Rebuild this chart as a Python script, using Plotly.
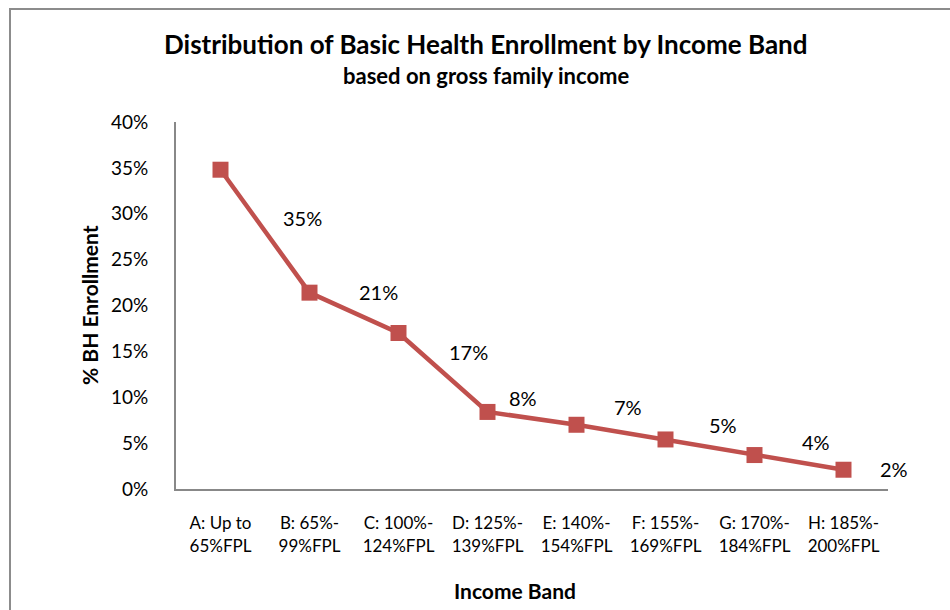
import plotly.graph_objects as go

categories = ["A: Up to<br>65%FPL", "B: 65%-<br>99%FPL", "C: 100%-<br>124%FPL", "D: 125%-<br>139%FPL",
              "E: 140%-<br>154%FPL", "F: 155%-<br>169%FPL", "G: 170%-<br>184%FPL", "H: 185%-<br>200%FPL"]
enrollment = [0.348, 0.214, 0.170, 0.084, 0.070, 0.054, 0.037, 0.021]
y_ticks = [0, 0.05, 0.10, 0.15, 0.20, 0.25, 0.30, 0.35, 0.40]
# label offsets in pixels (as placed in the original)
label_dx = [82, 69, 70, 35, 51, 57, 61, 50]
label_dy = [-48, 1, -19, 14, 18, 14, 13, 1]

W, H = 950, 610
L, R, T, B = 176, 62, 122, 121
pw, ph = W - L - R, H - T - B

def px(x):
    return (x - L) / pw

def py(y):
    return (H - B - y) / ph

FONT = "Lato"
RED = "#C0504D"

fig = go.Figure()
fig.add_trace(go.Scatter(
    x=list(range(len(categories))), y=enrollment, mode="lines+markers",
    line=dict(color=RED, width=4.5),
    marker=dict(symbol="square", size=16, color=RED),
    showlegend=False, cliponaxis=False,
))

annotations = []
for i, v in enumerate(enrollment):
    annotations.append(dict(
        x=i, y=v, xref="x", yref="y", text=f"{round(v * 100)}%",
        showarrow=False, xshift=label_dx[i], yshift=label_dy[i],
        font=dict(family=FONT, size=20, color="#000"),
    ))

annotations += [
    dict(x=px(486), y=py(44), xref="paper", yref="paper", text="<b>Distribution of Basic Health Enrollment by Income Band</b>",
         showarrow=False, font=dict(family=FONT, size=26, color="#000"), xanchor="center", yanchor="middle"),
    dict(x=px(486), y=py(76), xref="paper", yref="paper", text="<b>based on gross family income</b>",
         showarrow=False, font=dict(family=FONT, size=22, color="#000"), xanchor="center", yanchor="middle"),
    dict(x=px(89), y=py(305), xref="paper", yref="paper", text="<b>% BH Enrollment</b>", textangle=-90,
         showarrow=False, font=dict(family=FONT, size=21, color="#000"), xanchor="center", yanchor="middle"),
    dict(x=px(515), y=py(590), xref="paper", yref="paper", text="<b>Income Band</b>",
         showarrow=False, font=dict(family=FONT, size=21, color="#000"), xanchor="center", yanchor="middle"),
]

fig.update_layout(
    width=W, height=H, margin=dict(l=L, r=R, t=T, b=B),
    paper_bgcolor="white", plot_bgcolor="white",
    annotations=annotations,
    shapes=[dict(type="rect", xref="paper", yref="paper",
                 x0=px(10), x1=px(960), y0=py(620), y1=py(9),
                 line=dict(color="#8c8c8c", width=2), fillcolor="rgba(0,0,0,0)", layer="below")],
    xaxis=dict(
        tickmode="array", tickvals=list(range(len(categories))), ticktext=categories,
        range=[-0.5, len(categories) - 0.5], showgrid=False, zeroline=False,
        showline=True, linecolor="#888888", linewidth=2, ticks="", ticklabelstandoff=18,
        tickfont=dict(family=FONT, size=17, color="#000"), fixedrange=True,
    ),
    yaxis=dict(
        range=[0, 0.40], tickvals=y_ticks, tickformat=".0%", showgrid=False, zeroline=False,
        showline=True, linecolor="#888888", linewidth=2, ticks="", ticklabelstandoff=22,
        tickfont=dict(family=FONT, size=19, color="#000"), fixedrange=True,
    ),
)

fig.write_html("out.html")
